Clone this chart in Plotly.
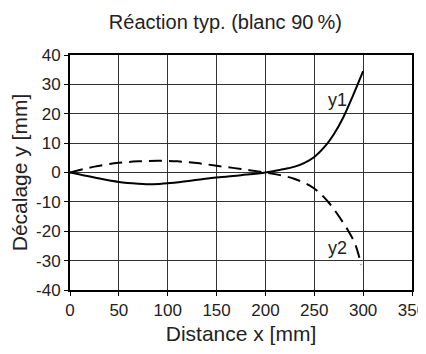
import plotly.graph_objects as go

# Reaction curves
x_y1 = [0, 25, 50, 70, 85, 100, 125, 150, 175, 200, 215, 230, 240, 250, 262, 270, 280, 290, 300]
v_y1 = [0, -1.7, -3.2, -3.8, -4.0, -3.7, -2.7, -1.7, -0.9, 0, 0.9, 2.0, 3.3, 5.3, 9.3, 13.0, 19.0, 26.5, 34.5]

x_y2 = [0, 25, 50, 70, 90, 110, 130, 150, 175, 200, 215, 230, 245, 255, 265, 275, 285, 292, 298]
v_y2 = [0, 2.0, 3.3, 3.8, 4.0, 3.8, 3.2, 2.3, 1.2, 0, -0.9, -2.2, -4.4, -6.8, -10.3, -14.8, -20.0, -24.5, -31.5]

x_ticks = [0, 50, 100, 150, 200, 250, 300, 350]
y_ticks = [-40, -30, -20, -10, 0, 10, 20, 30, 40]
y_tick_labels = [str(v) for v in y_ticks]

fig = go.Figure()
fig.add_trace(go.Scatter(x=x_y1, y=v_y1, mode="lines", line=dict(color="black", width=2, shape="spline")))
fig.add_trace(go.Scatter(x=x_y2, y=v_y2, mode="lines", line=dict(color="black", width=2, shape="spline", dash="13px,7px")))

fig.add_annotation(x=274, y=24.6, text="y1", showarrow=False, font=dict(size=18, color="#222"))
fig.add_annotation(x=274, y=-25.8, text="y2", showarrow=False, font=dict(size=18, color="#222"))

fig.update_xaxes(range=[0, 350], tickvals=x_ticks, showgrid=True, gridcolor="#333", gridwidth=1,
                 showline=True, linecolor="black", linewidth=2, mirror=True,
                 ticks="outside", ticklen=4, tickcolor="black", zeroline=False, automargin=False,
                 ticklabeloverflow="allow",
                 title=dict(text="Distance x [mm]", font=dict(size=21), standoff=7),
                 tickfont=dict(size=17, color="#222"))
fig.update_yaxes(range=[-40, 40], tickvals=y_ticks, ticktext=y_tick_labels, showgrid=True, gridcolor="#333", gridwidth=1,
                 showline=True, linecolor="black", linewidth=2, mirror=True,
                 ticks="outside", ticklen=4, tickcolor="black", zeroline=False, automargin=False,
                 title=dict(text="Décalage y [mm]", font=dict(size=21), standoff=6),
                 tickfont=dict(size=17, color="#222"))

# page body adds 8px, so the figure is a bit smaller than the window
fig.update_layout(
    width=418, height=346,
    margin=dict(l=62, r=14, t=47, b=64),
    showlegend=False,
    plot_bgcolor="white", paper_bgcolor="white",
    font=dict(family="Liberation Sans, Arial, sans-serif", color="#222"),
    title=dict(text="Réaction typ. (blanc 90\u2009%)", x=0.52, xanchor="center", y=0.96, yanchor="middle",
               font=dict(size=20, color="#222")),
)

fig.write_html("out.html")
